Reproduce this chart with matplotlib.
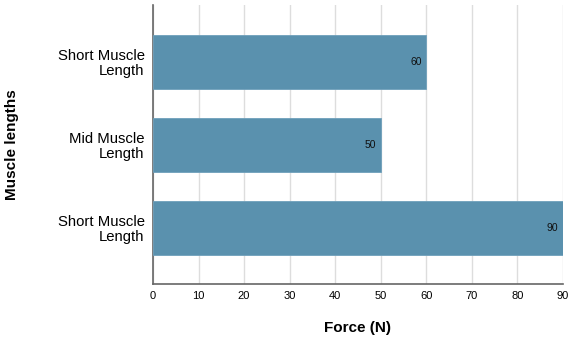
import matplotlib
matplotlib.use('Agg')
import matplotlib.pyplot as plt
import numpy as np
from matplotlib.ticker import MultipleLocator

plt.rcParams['font.family'] = ['Liberation Sans', 'DejaVu Sans']

categories = ['Short Muscle\nLength', 'Mid Muscle\nLength', 'Short Muscle\nLength']
forces = [60, 50, 90]

fig = plt.figure(figsize=(5.73, 3.41), dpi=100)
ax = fig.add_axes([0.267, 0.167, 0.7155, 0.818])

pos = np.arange(len(categories))[::-1]
bars = ax.barh(pos, forces, height=0.65, color='#5a91ae', edgecolor='#6fa0bb',
               linewidth=0.6, zorder=3)
for b, v in zip(bars, forces):
    ax.text(v - 1, b.get_y() + b.get_height() / 2, str(v), ha='right', va='center',
            fontsize=7.5, color='#111111', zorder=4)

ax.set_xlim(0, 90)
ax.set_ylim(-0.68, 2.68)
ax.xaxis.set_major_locator(MultipleLocator(10))
ax.set_yticks(pos)
ax.set_yticklabels(categories, fontsize=10.7, ha='right', linespacing=1.05)
ax.tick_params(axis='x', labelsize=8, length=0, pad=5)
ax.tick_params(axis='y', length=0, pad=6)
ax.grid(axis='x', color='#dddddd', linewidth=1, zorder=0)
for s in ['top', 'right']:
    ax.spines[s].set_visible(False)
ax.spines['left'].set_color('#666666')
ax.spines['bottom'].set_color('#666666')
ax.spines['left'].set_linewidth(1.2)
ax.spines['bottom'].set_linewidth(1.2)

ax.set_xlabel('Force (N)', fontsize=11, fontweight='bold')
ax.set_ylabel('Muscle lengths', fontsize=11, fontweight='bold', ha='center', va='center')
ax.xaxis.set_label_coords(0.5, -0.133)
ax.yaxis.set_label_coords(-0.344, 0.5)

fig.savefig('out.png', dpi=100)
